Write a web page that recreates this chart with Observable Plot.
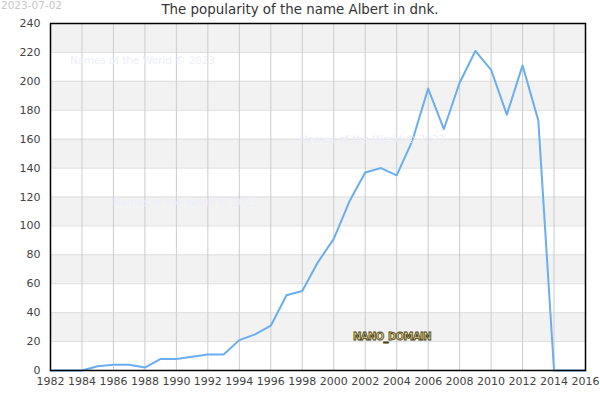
<!DOCTYPE html>
<html><head><meta charset="utf-8">
<script src="https://cdn.jsdelivr.net/npm/d3@7"></script>
<script src="https://cdn.jsdelivr.net/npm/@observablehq/plot@0.6"></script>
<style>
body{margin:0;background:#fff;font-family:"DejaVu Sans",sans-serif;}
#wrap{position:relative;width:600px;height:400px;}
.ov{position:absolute;white-space:nowrap;line-height:1;}
</style></head><body>
<div id="wrap"></div>
<script>
const years = [1982,1983,1984,1985,1986,1987,1988,1989,1990,1991,1992,1993,1994,1995,1996,1997,1998,1999,2000,2001,2002,2003,2004,2005,2006,2007,2008,2009,2010,2011,2012,2013,2014,2015,2016];
const counts = [0,0,0,3,4,4,2,8,8,9.5,11,11,21,25,31,52,55,75,91,117,137,140,135,159,195,167,199,221,208,177,211,173,0,0,0];
const bandStarts = [20,60,100,140,180,220];
const xTicks = d3.range(1982, 2017, 2);
const yTicks = d3.range(0, 241, 20);
const title = "The popularity of the name Albert in dnk.";
const dateLabel = "2023-07-02";
const watermark = "Names of the World © 2023";
const badge = "NANO_DOMAIN";

const data = years.map((y,i)=>({year:y, count:counts[i]}));
const bands = bandStarts.map(b=>({y1:b, y2:b+20}));

const chart = Plot.plot({
  width:600, height:400,
  marginTop:23, marginLeft:50, marginRight:15, marginBottom:30,
  style:{fontFamily:"DejaVu Sans, sans-serif", fontSize:"11px", color:"#444", background:"#fff"},
  x:{domain:[1982,2016], ticks:xTicks, tickFormat:"d", tickSize:0, tickPadding:7, label:null},
  y:{domain:[0,240], ticks:yTicks, tickSize:0, tickPadding:10, label:null},
  marks:[
    Plot.rect(bands,{y1:"y1", y2:"y2", fill:"#f2f2f2"}),
    Plot.gridY(yTicks,{stroke:"#dddddd", strokeOpacity:1}),
    Plot.gridX(xTicks,{stroke:"#cccccc", strokeOpacity:1}),
    Plot.line(data,{x:"year", y:"count", stroke:"#6aaef0", strokeWidth:2}),
    Plot.frame({stroke:"#000", strokeWidth:1.5})
  ]
});
const wrap = document.getElementById("wrap");
wrap.appendChild(chart);
function ov(text, left, top, css){
  const d=document.createElement("div"); d.className="ov"; d.textContent=text;
  d.style.left=left+"px"; d.style.top=top+"px"; Object.assign(d.style, css); wrap.appendChild(d); return d;
}
ov(dateLabel, 1, 0, {fontSize:"10.5px", color:"#c8c8c8"});
ov(title, 0, 3, {fontSize:"13.4px", color:"#333", width:"600px", textAlign:"center", left:"0px"});
ov(watermark, 70, 55, {fontSize:"10.3px", color:"#eeeefb"});
ov(watermark, 300, 134, {fontSize:"10.3px", color:"#eeeefb"});
ov(watermark, 113, 197, {fontSize:"10.3px", color:"#eeeefb"});
ov(badge, 353, 332, {fontSize:"10px", fontWeight:"bold", color:"#e6d890", webkitTextStroke:"0.8px #4a3d12", letterSpacing:"-0.6px"});
</script>
</body></html>
